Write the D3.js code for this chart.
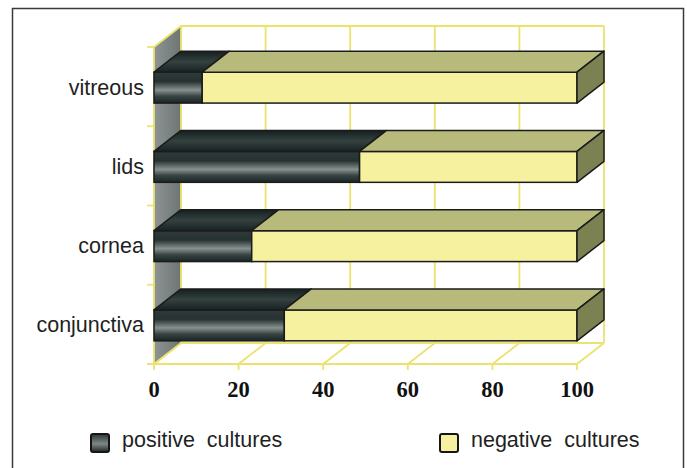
<!DOCTYPE html>
<html>
<head>
<meta charset="utf-8">
<script src="https://cdn.jsdelivr.net/npm/d3@7"></script>
<style>
  html, body { margin: 0; padding: 0; background: #ffffff; }
  svg { display: block; }
</style>
</head>
<body>
<svg id="chart" width="687" height="468"></svg>
<script>
// Culture results per sampling site (percent of samples)
const categories = ["conjunctiva", "cornea", "lids", "vitreous"];
const positiveCultures = [30.8, 23.1, 48.6, 11.4];
const negativeCultures = [69.2, 76.9, 51.4, 88.6];
const xTicks = [0, 20, 40, 60, 80, 100];
const seriesNames = ["positive  cultures", "negative  cultures"];

const svg = d3.select("#chart");

// Oblique depth of the pseudo-3D box
const DX = 27, DY = -21;

const x = d3.scaleLinear().domain([0, 100]).range([154, 577]);
const y = d3.scaleBand().domain(categories).range([364, 47])
  .paddingInner(0.61).paddingOuter(0.305);

const grid = "#ece26e";
const edge = "#1b1b1b";

// Gradients
const defs = svg.append("defs");
function linGrad(id, horiz, stops) {
  const g = defs.append("linearGradient").attr("id", id)
    .attr("x1", 0).attr("y1", 0).attr("x2", horiz ? 1 : 0).attr("y2", horiz ? 0 : 1);
  stops.forEach(([o, c]) => g.append("stop").attr("offset", o).attr("stop-color", c));
}
linGrad("posFront", false, [[0, "#2f3a3a"], [0.3, "#263131"], [0.58, "#87918f"], [0.78, "#384444"], [1, "#1b2525"]]);
linGrad("posTop", false, [[0, "#132020"], [0.5, "#34413f"], [1, "#172323"]]);
linGrad("wallGrad", true, [[0, "#8e9494"], [1, "#6d7474"]]);
linGrad("legPos", false, [[0, "#2a3535"], [0.55, "#7e8888"], [1, "#1e2828"]]);

// Outer frame
svg.append("rect")
  .attr("x", 12.5).attr("y", 8.5).attr("width", 671).attr("height", 480)
  .attr("fill", "#ffffff").attr("stroke", "#3a3a3a").attr("stroke-width", 1.5);

const x0 = x(0), x1 = x(100);
const yTop = y.range()[1], yBot = y.range()[0];

// Back wall gridlines
const back = svg.append("g");
back.selectAll("line.v").data(xTicks).join("line")
  .attr("x1", d => x(d) + DX).attr("x2", d => x(d) + DX)
  .attr("y1", yTop + DY).attr("y2", yBot + DY)
  .attr("stroke", grid).attr("stroke-width", 1.8);
back.append("line")
  .attr("x1", x0 + DX).attr("x2", x1 + DX)
  .attr("y1", yTop + DY).attr("y2", yTop + DY)
  .attr("stroke", grid).attr("stroke-width", 1.8);

// Floor
back.append("line")
  .attr("x1", x0 + DX).attr("x2", x1 + DX)
  .attr("y1", yBot + DY).attr("y2", yBot + DY)
  .attr("stroke", grid).attr("stroke-width", 1.8);
back.selectAll("line.d").data(xTicks).join("line")
  .attr("x1", d => x(d)).attr("x2", d => x(d) + DX)
  .attr("y1", yBot).attr("y2", yBot + DY)
  .attr("stroke", grid).attr("stroke-width", 1.8);
back.append("line")
  .attr("x1", x0 - 7).attr("x2", x1)
  .attr("y1", yBot).attr("y2", yBot)
  .attr("stroke", grid).attr("stroke-width", 1.8);
back.selectAll("line.t").data(xTicks).join("line")
  .attr("x1", d => x(d)).attr("x2", d => x(d))
  .attr("y1", yBot).attr("y2", yBot + 6)
  .attr("stroke", grid).attr("stroke-width", 1.8);

// Left wall
back.append("polygon")
  .attr("points", [[x0, yBot], [x0, yTop], [x0 + DX, yTop + DY], [x0 + DX, yBot + DY]].join(" "))
  .attr("fill", "url(#wallGrad)").attr("stroke", grid).attr("stroke-width", 1.8)
  .attr("stroke-linejoin", "round");

// Category boundary stubs on the wall edge
const bounds = categories.map(c => y(c) - (y.step() - y.bandwidth()) / 2).concat([yBot]);
back.selectAll("line.s").data(bounds).join("line")
  .attr("x1", x0 - 7).attr("x2", x0)
  .attr("y1", d => d).attr("y2", d => d)
  .attr("stroke", grid).attr("stroke-width", 1.8);

// Bars
const rows = categories.map((c, i) => ({ cat: c, pos: positiveCultures[i], neg: negativeCultures[i] }));
const bars = svg.append("g").selectAll("g").data(rows).join("g");
const pts = a => a.map(p => p.join(",")).join(" ");

bars.each(function (d) {
  const g = d3.select(this);
  const top = y(d.cat) + 1, h = y.bandwidth();
  const xa = x(0), xb = x(d.pos), xc = x(d.pos + d.neg);
  // front faces
  g.append("rect").attr("x", xa).attr("y", top).attr("width", xb - xa).attr("height", h)
    .attr("fill", "url(#posFront)").attr("stroke", edge).attr("stroke-width", 1.5);
  g.append("rect").attr("x", xb).attr("y", top).attr("width", xc - xb).attr("height", h)
    .attr("fill", "#f6f19f").attr("stroke", edge).attr("stroke-width", 1.5);
  // top faces
  g.append("polygon")
    .attr("points", pts([[xa, top], [xb, top], [xb + DX, top + DY], [xa + DX, top + DY]]))
    .attr("fill", "url(#posTop)").attr("stroke", edge).attr("stroke-width", 1.5).attr("stroke-linejoin", "round");
  g.append("polygon")
    .attr("points", pts([[xb, top], [xc, top], [xc + DX, top + DY], [xb + DX, top + DY]]))
    .attr("fill", "#b7ba7a").attr("stroke", edge).attr("stroke-width", 1.5).attr("stroke-linejoin", "round");
  // right end
  g.append("polygon")
    .attr("points", pts([[xc, top], [xc + DX, top + DY], [xc + DX, top + h + DY], [xc, top + h]]))
    .attr("fill", "#7b8150").attr("stroke", edge).attr("stroke-width", 1.5).attr("stroke-linejoin", "round");
});

// Category labels
svg.append("g").selectAll("text").data(categories).join("text")
  .attr("x", 144).attr("y", d => y(d) + y.bandwidth() / 2 + 8)
  .attr("text-anchor", "end")
  .attr("font-family", "Liberation Sans, Arial, sans-serif").attr("font-size", 21.5)
  .attr("fill", "#1f1f1f")
  .text(d => d);

// Value axis labels
svg.append("g").selectAll("text").data(xTicks).join("text")
  .attr("x", d => x(d)).attr("y", 397)
  .attr("text-anchor", "middle")
  .attr("font-family", "Liberation Serif, Times New Roman, serif").attr("font-weight", "bold")
  .attr("font-size", 22.5).attr("fill", "#111")
  .text(d => d);

// Legend
const legend = svg.append("g");
const legendItems = [
  { name: seriesNames[0], fill: "url(#legPos)", x: 90 },
  { name: seriesNames[1], fill: "#f6f19f", x: 439 }
];
legend.selectAll("rect").data(legendItems).join("rect")
  .attr("x", d => d.x + 1).attr("y", 434).attr("width", 18).attr("height", 18).attr("rx", 2)
  .attr("fill", d => d.fill).attr("stroke", "#151515").attr("stroke-width", 2);
legend.selectAll("text").data(legendItems).join("text")
  .attr("x", d => d.x + 32).attr("y", 447)
  .attr("font-family", "Liberation Sans, Arial, sans-serif").attr("font-size", 21.5)
  .attr("fill", "#1f1f1f").style("white-space", "pre")
  .text(d => d.name);
</script>
</body>
</html>
